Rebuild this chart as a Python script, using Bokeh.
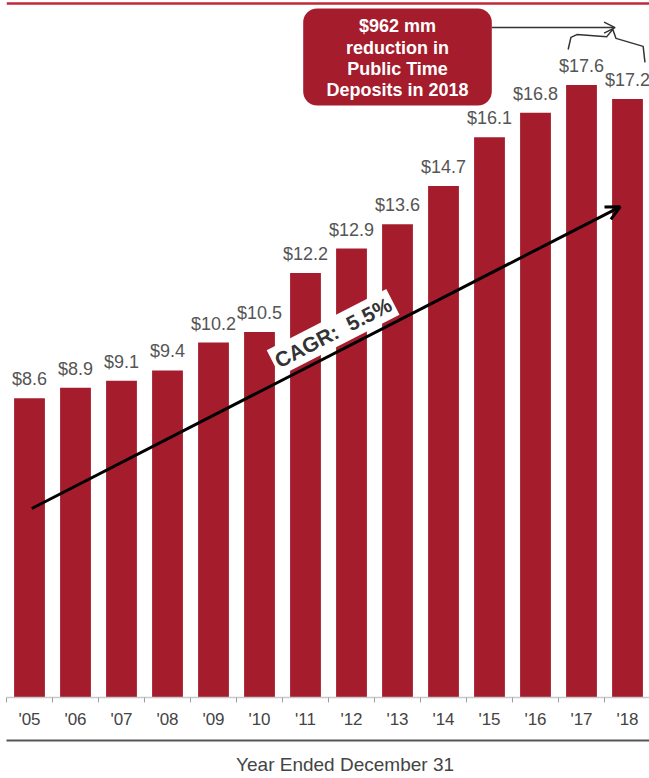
from bokeh.plotting import figure
from bokeh.models import (Range1d, LinearAxis, FixedTicker, Arrow, OpenHead, Label,
                          BoxAnnotation, Span, ColumnDataSource)
from bokeh.core.properties import value
from bokeh.embed import file_html
from bokeh.resources import INLINE

# ---- data ----
years = ["'05", "'06", "'07", "'08", "'09", "'10", "'11", "'12", "'13", "'14", "'15", "'16", "'17", "'18"]
deposits = [8.6, 8.9, 9.1, 9.4, 10.2, 10.5, 12.2, 12.9, 13.6, 14.7, 16.1, 16.8, 17.6, 17.2]
value_labels = ["$" + f"{v:.1f}" for v in deposits]
cagr_text = "CAGR:\u00a0 5.5%"
callout_text = "$962 mm\nreduction in\nPublic Time\nDeposits in 2018"
x_title = "Year Ended December 31"

FONT = "Liberation Sans"
BAR = "#a51c2c"
W, H = 649, 778
LEFT = 6
BOTTOM = 81
PX_PER_UNIT = 34.8
Y_END = (H - BOTTOM) / PX_PER_UNIT
X_END = -0.5 + (W - LEFT) / 46.0
TITLE_X = 6.86

idx = list(range(len(years)))
src = ColumnDataSource(dict(x=idx, top=deposits, label=value_labels))

p = figure(width=W, height=H, output_backend="svg", toolbar_location=None,
           x_range=Range1d(-0.5, X_END), y_range=Range1d(0, Y_END),
           x_axis_location=None, y_axis_location=None,
           min_border_left=LEFT, min_border_right=0, min_border_top=0, min_border_bottom=BOTTOM)
p.outline_line_color = None
p.xgrid.visible = False
p.ygrid.visible = False
p.background_fill_color = "white"
p.border_fill_color = "white"

p.vbar(x="x", top="top", width=0.67, source=src, fill_color=BAR, line_color=None)
p.text(x="x", y="top", text="label", source=src, text_align="center",
       text_baseline="alphabetic", y_offset=-19, text_font=value(FONT),
       text_font_size="18px", text_color="#555555")

# main axis: baseline, boundary ticks, year labels
ax = LinearAxis(ticker=FixedTicker(ticks=idx, minor_ticks=[i - 0.5 for i in range(len(years) + 1)]))
ax.major_label_overrides = {i: y for i, y in zip(idx, years)}
ax.major_tick_out = 0
ax.major_tick_in = 0
ax.minor_tick_out = 5
ax.minor_tick_in = 0
ax.minor_tick_line_color = "#a0a0a0"
ax.axis_line_color = "#c8c8c8"
ax.axis_line_width = 1.5
ax.major_label_standoff = 7
ax.major_label_text_font = FONT
ax.major_label_text_font_size = "17px"
ax.major_label_text_color = "#444444"
ax.axis_label = " "
ax.axis_label_text_font_size = "6px"
ax.axis_label_standoff = 0
p.add_layout(ax, "below")

# second axis: dark rule with the title as its single label
ax2 = LinearAxis(ticker=FixedTicker(ticks=[TITLE_X], minor_ticks=[]))
ax2.major_label_overrides = {TITLE_X: x_title}
ax2.axis_line_color = "#555555"
ax2.axis_line_width = 2
ax2.major_tick_out = 0
ax2.major_tick_in = 0
ax2.major_tick_line_color = None
ax2.minor_tick_out = 0
ax2.minor_tick_in = 0
ax2.minor_tick_line_color = None
ax2.major_label_standoff = 13
ax2.major_label_text_font = FONT
ax2.major_label_text_font_size = "19px"
ax2.major_label_text_color = "#444444"
p.add_layout(ax2, "below")

# top red rule
p.add_layout(Span(location=Y_END - 3 / PX_PER_UNIT, dimension="width",
                  line_color="#c0283a", line_width=2.5))

# CAGR arrow and label
p.add_layout(Arrow(end=OpenHead(size=14, line_width=3, line_color="black"),
                   x_start=0.05, y_start=5.43, x_end=12.84, y_end=14.1,
                   line_color="black", line_width=3))
p.add_layout(Label(x=6.6, y=10.49, text=cagr_text, angle=0.474, angle_units="rad",
                   text_align="center", text_baseline="middle", text_font=FONT,
                   text_font_size="21px", text_font_style="bold", text_color="#333333",
                   background_fill_color="white", padding=3))

# callout box
p.add_layout(BoxAnnotation(left=5.95, right=10.05, top=19.8, bottom=17.01,
                           fill_color=BAR, fill_alpha=1, line_color=None, border_radius=14))
p.add_layout(Label(x=8.0, y=18.37, text=callout_text, text_align="center",
                   text_baseline="middle", text_font=FONT, text_font_size="18px",
                   text_font_style="bold", text_color="white", text_line_height=1.06))
p.add_layout(Arrow(end=OpenHead(size=11, line_width=1.5, line_color="#333333"),
                   x_start=10.05, y_start=19.25, x_end=12.73, y_end=19.25,
                   line_color="#333333", line_width=1.5))
brace_x = [11.71, 11.77, 11.90, 12.55, 12.68, 12.75, 13.34, 13.38]
brace_y = [18.62, 18.97, 19.05, 18.99, 19.20, 18.94, 18.71, 18.25]
p.line(brace_x, brace_y, line_color="#333333", line_width=1.5)

open("out.html", "w").write(file_html(p, INLINE))
